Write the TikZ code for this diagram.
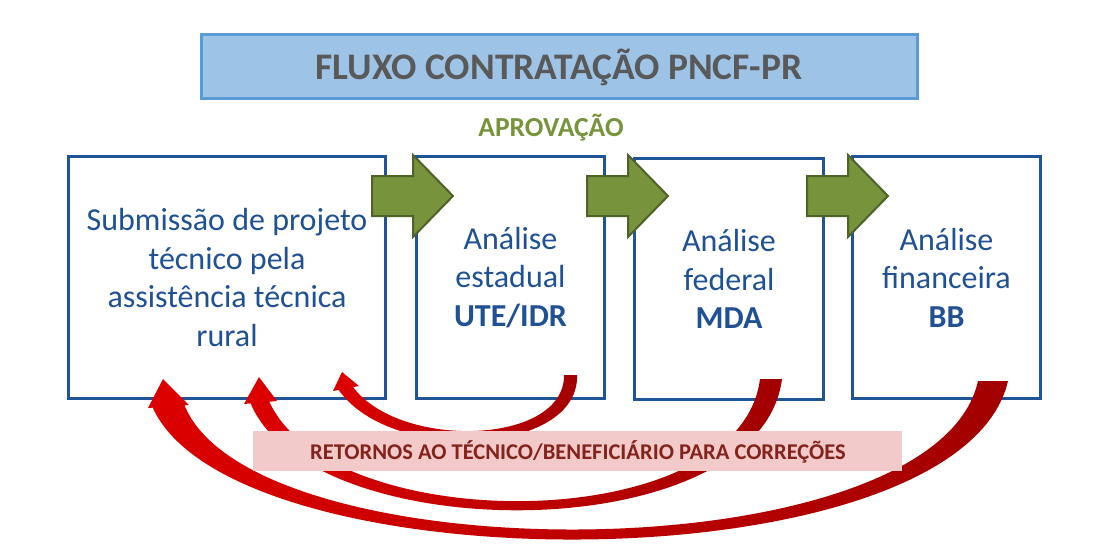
\documentclass[tikz,border=0pt]{standalone}
\usepackage{fontspec}
\setmainfont{Carlito}
\definecolor{titlefill}{HTML}{9DC3E6}
\definecolor{titleline}{HTML}{5B9BD5}
\definecolor{titletext}{HTML}{595959}
\definecolor{aprov}{HTML}{77933C}
\definecolor{boxblue}{HTML}{1F5596}
\definecolor{textblue}{HTML}{1F5194}
\definecolor{gfill}{HTML}{77933C}
\definecolor{gline}{HTML}{4F6228}
\definecolor{labfill}{HTML}{F2CACA}
\definecolor{labtext}{HTML}{84221C}
\definecolor{redL}{HTML}{DC0000}
\definecolor{redD}{HTML}{A20000}
\tikzset{
  titlebox/.style={draw=titleline, line width=2.5pt, fill=titlefill, anchor=north west, inner sep=0pt},
  stepbox/.style={draw=boxblue, line width=3pt, fill=white, anchor=north west, inner sep=0pt,
    text=textblue, align=center, font=\fontsize{32}{38.5}\selectfont},
  labelbox/.style={fill=labfill, anchor=north west, inner sep=0pt},
  garrowstyle/.style={draw=gline, line width=2pt, fill=gfill, line join=miter},
  garrow/.pic={\path[garrowstyle] (0,-20) -- (41,-20) -- (41,-41) -- (81,0) -- (41,41) -- (41,20) -- (0,20) -- cycle;},
  ribbon/.style={left color=redL, right color=redD},
}
\begin{document}
\begin{tikzpicture}[x=1pt,y=-1pt]
\useasboundingbox[fill=white] (0,0) rectangle (1112,555);
% title
\node[titlebox, minimum width=716pt, minimum height=64pt] (title) at (200,33) {};
\node[anchor=base, text=titletext, font=\bfseries\fontsize{37.5}{40}\selectfont] (titletxt) at (559,79) {FLUXO CONTRATAÇÃO PNCF-PR};
\node[anchor=base, text=aprov, font=\bfseries\fontsize{27.5}{30}\selectfont] (apr) at (551,136) {APROVAÇÃO};
% boxes
\node[stepbox, minimum width=317pt, minimum height=242pt] (b1) at (67,155) {Submissão de projeto\\técnico pela\\assistência técnica\\rural};
\node[stepbox, minimum width=188pt, minimum height=242pt] (b2) at (415,155) {Análise\\estadual\\\textbf{UTE/IDR}};
\node[stepbox, minimum width=189pt, minimum height=241pt] (b3) at (633,157) {Análise\\federal\\\textbf{MDA}};
\node[stepbox, minimum width=188pt, minimum height=242pt] (b4) at (851,155) {Análise\\financeira\\\textbf{BB}};
% return ribbons
\shade[ribbon] (338,389) .. controls (390,465) and (580,455) .. (577,375) -- (564,375) .. controls (565,445) and (400,450) .. (353,387) -- cycle;
\fill[redL] (333,391) -- (342,372) -- (359,386) -- cycle;
\shade[ribbon] (250,402) .. controls (310,550) and (760,550) .. (782,379) -- (760,379) .. controls (740,538) and (330,538) .. (269,401) -- cycle;
\fill[redL] (244,404) -- (259,377) -- (277,401) -- cycle;
\shade[ribbon] (152,406) .. controls (230,588) and (960,588) .. (1008,381) -- (978,381) .. controls (935,575) and (250,575) .. (184,404) -- cycle;
\fill[redL] (148,408) -- (163,379) -- (189,405) -- cycle;
% approval arrows
\pic at (372,196) {garrow};
\pic at (587,196) {garrow};
\pic at (807,196) {garrow};
% label
\node[labelbox, minimum width=649pt, minimum height=40pt] (lab) at (253,431) {};
\node[anchor=base, text=labtext, font=\bfseries\fontsize{22.5}{24}\selectfont] (labtxt) at (578,459) {RETORNOS AO TÉCNICO/BENEFICIÁRIO PARA CORREÇÕES};
\end{tikzpicture}
\end{document}
